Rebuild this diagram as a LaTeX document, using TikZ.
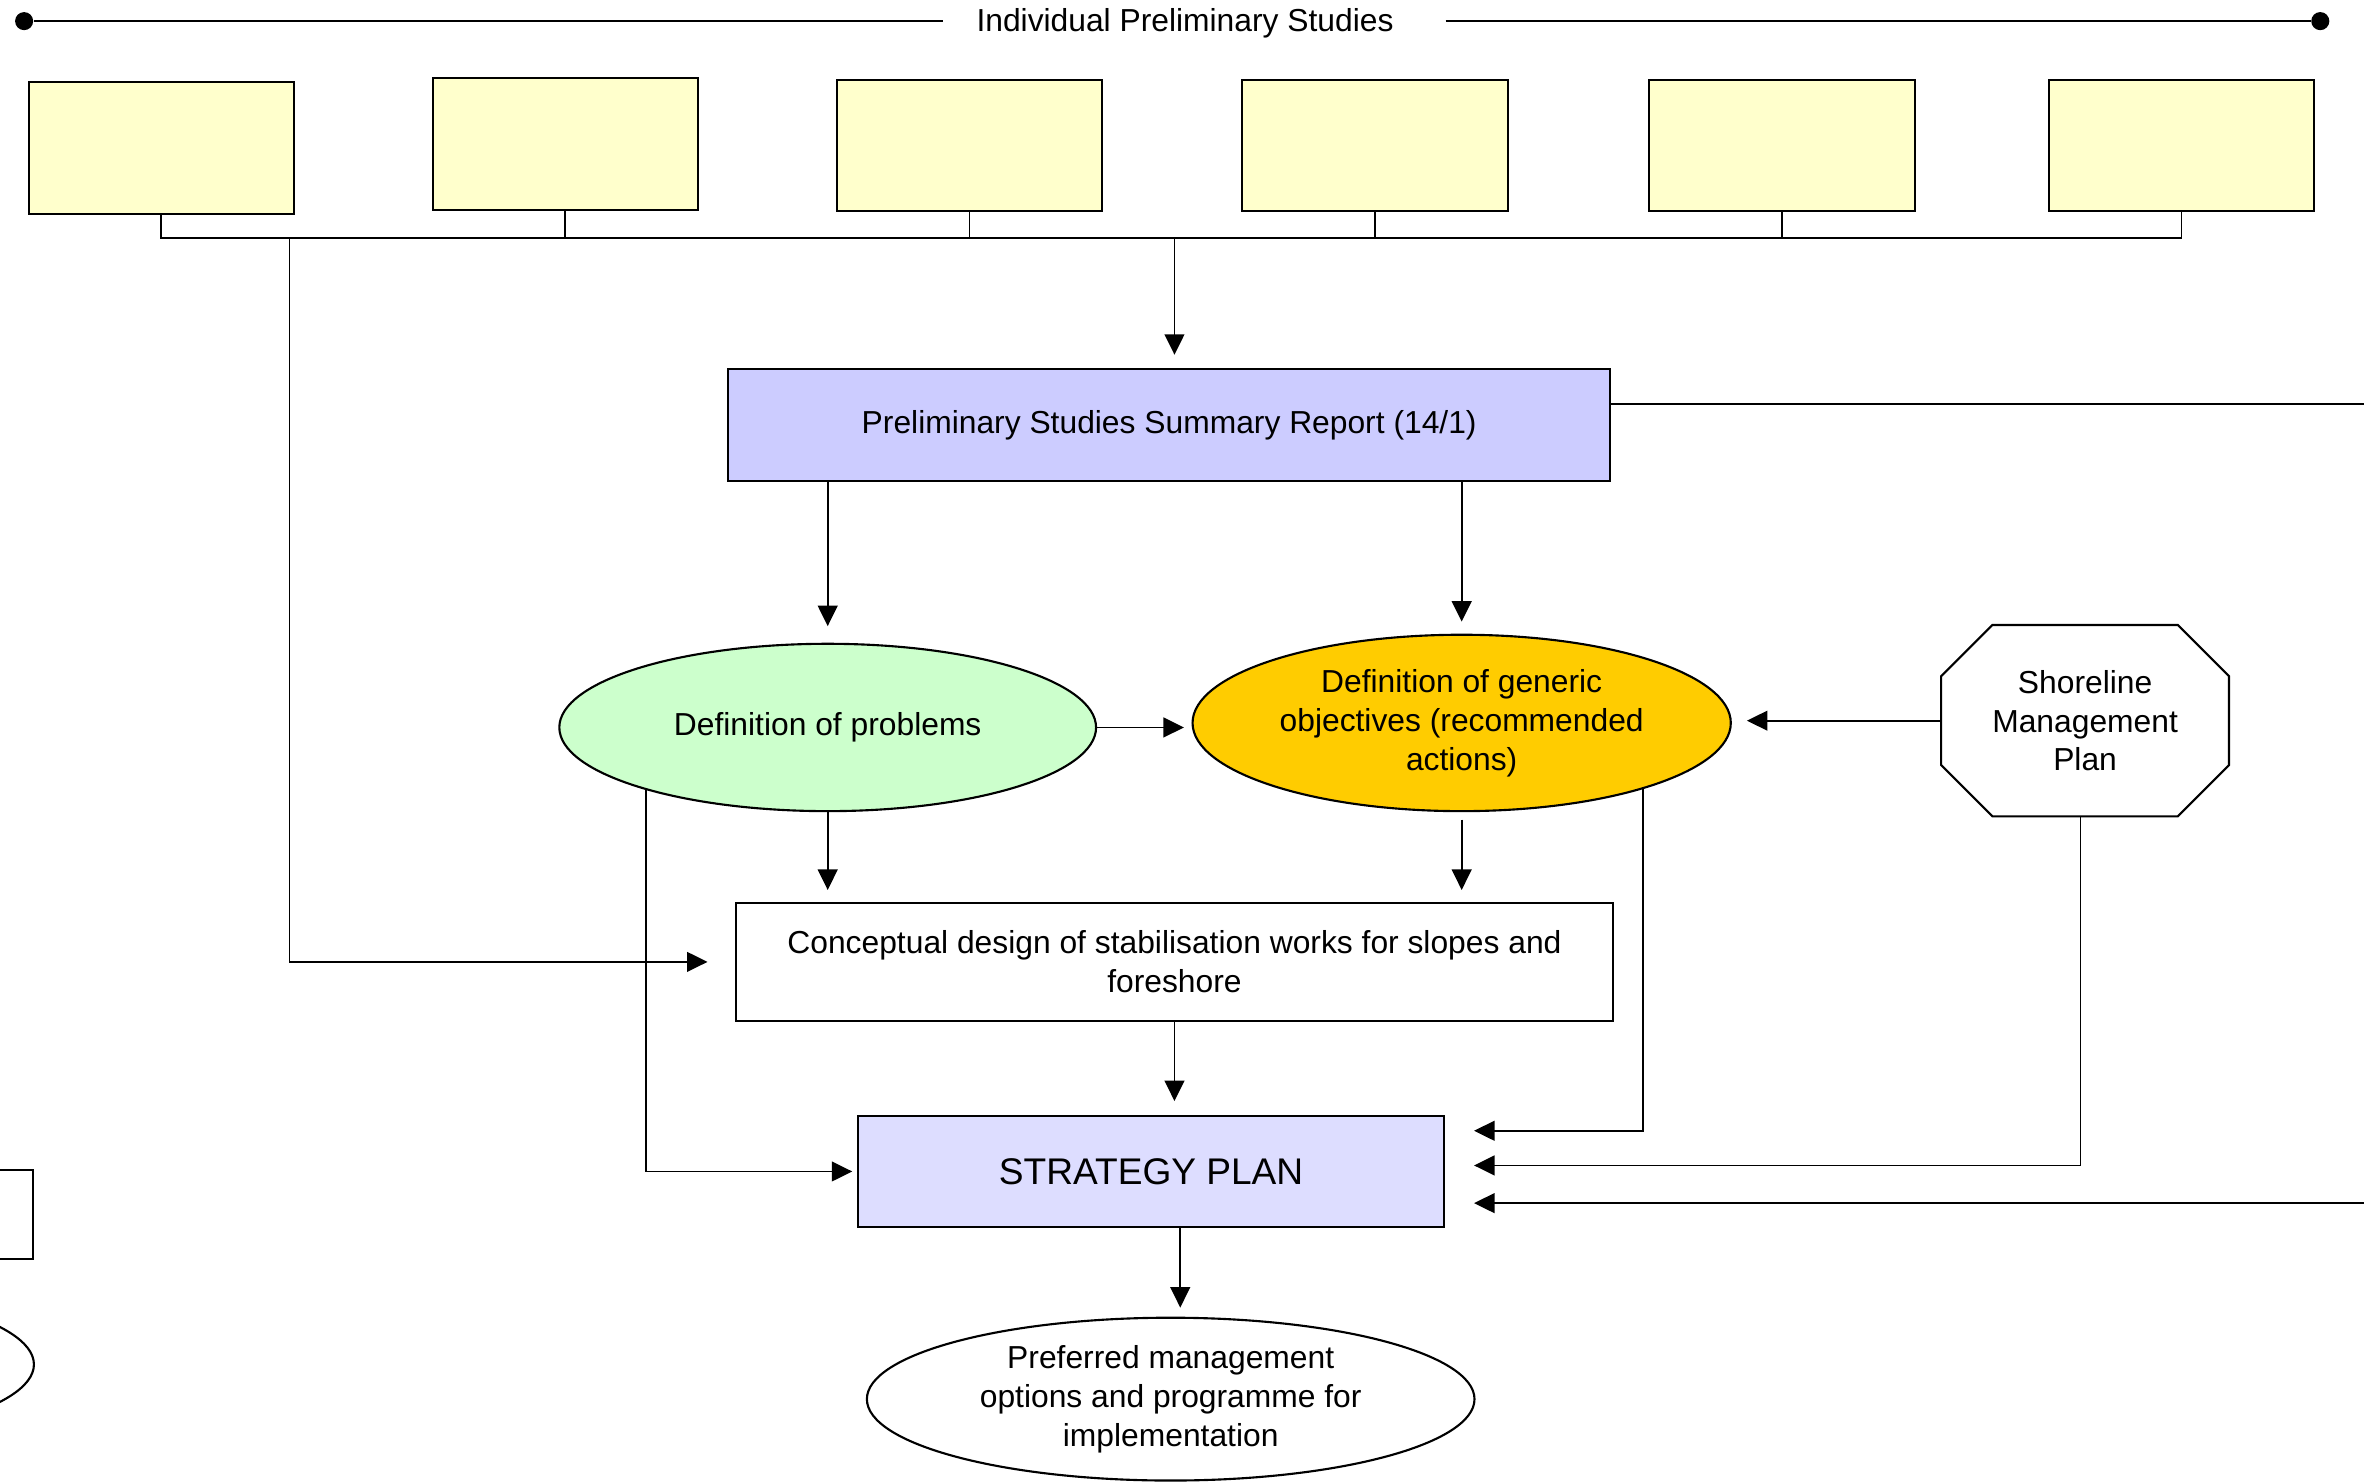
\documentclass[tikz,border=0pt]{standalone}
\usepackage{fontspec}
\setmainfont{Liberation Sans}
\usetikzlibrary{arrows.meta,shapes.geometric}

\definecolor{studyyellow}{HTML}{FFFFCC}
\definecolor{reportblue}{HTML}{CCCCFF}
\definecolor{probgreen}{HTML}{CCFFCC}
\definecolor{aimorange}{HTML}{FFCC00}
\definecolor{planblue}{HTML}{DDDDFF}

\begin{document}
\begin{tikzpicture}[x=0.015cm,y=-0.015cm,
    every node/.style={font=\fontsize{9}{11}\selectfont, align=center},
    box/.style={draw, line width=0.6pt, rectangle, inner sep=2pt},
    oval/.style={draw, line width=0.6pt, ellipse, inner sep=0pt},
    study/.style={box, fill=studyyellow, minimum width=2.64cm, minimum height=1.31cm},
    link/.style={line width=0.5pt},
    arr/.style={line width=0.5pt, -{Triangle[length=5.8pt,width=5.6pt]}},
    dot/.style={fill, circle, inner sep=0pt, minimum size=0.18cm}]
    \clip (0,0) rectangle (1568,984);

    % heading
    \node (dl) at (16,14) [dot] {};
    \node (dr) at (1539,14) [dot] {};
    \node (title) at (786,15.5) [inner xsep=0.33cm] {Individual Preliminary Studies};

    % individual studies
    \node (s1) at (107,98) [study] {};
    \node (s2) at (375,95.5) [study] {};
    \node (s3) at (643,96.5) [study] {};
    \node (s4) at (912,96.5) [study] {};
    \node (s5) at (1182,96.5) [study] {};
    \node (s6) at (1447,96.5) [study] {};

    \node (report) at (775.5,282) [box, fill=reportblue, minimum width=8.775cm, minimum height=1.11cm] {Preliminary Studies Summary Report (14/1)};

    \node (problems) at (549,482.5) [oval, fill=probgreen, minimum width=5.34cm, minimum height=1.665cm] {Definition of problems};
    \node (aims) at (969.5,479.5) [oval, fill=aimorange, minimum width=5.355cm, minimum height=1.755cm] {Definition of generic\\objectives (recommended\\actions)};
    \node (smp) at (1383,478) [minimum width=2.85cm, minimum height=1.89cm] {Shoreline\\Management\\Plan};

    \node (concept) at (779,638) [box, minimum width=8.73cm, minimum height=1.17cm] {Conceptual design of stabilisation works for slopes and\\foreshore};
    \node (plan) at (763.5,777) [box, fill=planblue, minimum width=5.835cm, minimum height=1.11cm, font=\fontsize{10.5}{13}\selectfont] {STRATEGY PLAN};
    \node (options) at (776.5,928) [oval, minimum width=6.045cm, minimum height=1.62cm] {Preferred management\\options and programme for\\implementation};

    % cut off at the left edge
    \node (leftbox) at (-78,805.5) [box, minimum width=3cm, minimum height=0.885cm] {};
    \node (leftoval) at (-179,905) [oval, minimum width=6.045cm, minimum height=1.62cm] {};

    % octagon round the SMP
    \draw[line width=0.6pt] ([xshift=0.51cm]smp.north west) -- ([xshift=-0.51cm]smp.north east)
        -- ([yshift=-0.51cm]smp.north east) -- ([yshift=0.51cm]smp.south east)
        -- ([xshift=-0.51cm]smp.south east) -- ([xshift=0.51cm]smp.south west)
        -- ([yshift=0.51cm]smp.south west) -- ([yshift=-0.51cm]smp.north west) -- cycle;

    \coordinate (bus) at (779,158);
    \coordinate (side) at (192,158);
    \coordinate (outA) at (1600,268);
    \coordinate (outB) at (1600,798);
    \coordinate (planout) at ([xshift=0.29cm]plan.south);
    \coordinate (inA) at ([yshift=0.405cm]plan.east);
    \coordinate (inB) at ([yshift=0.06cm]plan.east);
    \coordinate (smpout) at ([xshift=-0.045cm]smp.south);

    \draw[link] (dl) -- (dl -| title.west);
    \draw[link, shorten <=0.18cm] (dr -| title.east) -- (dr);

    \draw[link] (s1.south) |- (bus) -| (s6.south);
    \draw[link] (s2.south) -- (s2.south |- bus);
    \draw[link] (s3.south) -- (s3.south |- bus);
    \draw[link] (s4.south) -- (s4.south |- bus);
    \draw[link] (s5.south) -- (s5.south |- bus);
    \draw[arr, shorten >=0.135cm] (bus) -- (bus |- report.north);
    \draw[arr, shorten >=0.27cm] (side) |- (concept.west);

    \draw[link] (report.east |- outA) -- (outA);
    \draw[arr, shorten >=0.165cm] (report.south -| problems.north) -- (problems.north);
    \draw[arr, shorten >=0.12cm] (report.south -| aims.north) -- (aims.north);

    \draw[arr, shorten >=0.075cm] (problems.east) -- (problems.east -| aims.west);
    \draw[arr, shorten >=0.15cm] (smp.west) -- (smp.west -| aims.east);
    \draw[arr, shorten >=0.12cm] (problems.south) -- (problems.south |- concept.north);
    \draw[arr, shorten <=0.075cm, shorten >=0.12cm] (aims.south) -- (aims.south |- concept.north);

    \draw[arr, shorten >=0.135cm] (concept.south) -- (concept.south |- plan.north);
    \draw[arr, shorten >=0.045cm] (problems.199) |- (plan.west);
    \draw[arr, shorten >=0.285cm] (aims.340) |- (inA);
    \draw[arr, shorten >=0.285cm] (smpout) |- (inB);
    \draw[arr, shorten >=0.285cm] (outB) -- (outB -| plan.east);

    \draw[arr, shorten >=0.09cm] (planout) -- (planout |- options.north);
\end{tikzpicture}
\end{document}
